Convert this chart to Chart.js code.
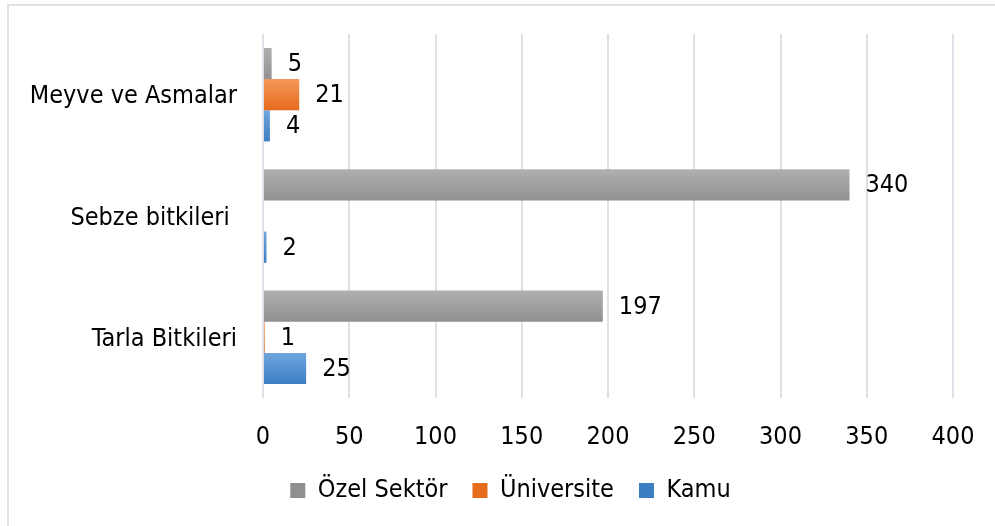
<!DOCTYPE html>
<html>
<head>
<meta charset="utf-8">
<script src="https://cdn.jsdelivr.net/npm/chart.js@4.4.1/dist/chart.umd.min.js"></script>
<style>
  html, body { margin: 0; padding: 0; background: #fff; overflow: hidden; }
  #wrap { position: relative; width: 995px; height: 526px; }
  #frame { position: absolute; left: 7px; top: 4px; width: 1000px; height: 540px;
           border: 2px solid #dfe3e8; box-sizing: border-box; pointer-events: none; }
</style>
</head>
<body>
<div id="wrap">
  <canvas id="chartCanvas" width="995" height="526"></canvas>
  <div id="frame"></div>
</div>
<script>
// Data:
var categories = ['Meyve ve Asmalar', 'Sebze bitkileri ', 'Tarla Bitkileri'];
var seriesNames = ['Özel Sektör', 'Üniversite', 'Kamu'];
var ozelSektor = [5, 340, 197];
var universite = [21, null, 1];
var kamu = [4, 2, 25];
var xTicks = [0, 50, 100, 150, 200, 250, 300, 350, 400];

var FONT = "'DejaVu Sans Condensed', 'Liberation Sans', sans-serif";
var FONT_SIZE = 25;

// gradient stops for each series [top, bottom]
var colorStops = [
    ['#b0b0b0', '#909090'],
    ['#f4975a', '#e66c1e'],
    ['#6fa6dd', '#3d7ec3']
];

/**
 * Vertical gradient per bar, built from the bar's current position.
 */
function barFill(seriesIndex) {
    return function (context) {
        var el = context.element;
        var stops = colorStops[seriesIndex];
        if (!el || !el.height || isNaN(el.y)) return stops[1];
        var top = el.y - el.height / 2;
        var g = context.chart.ctx.createLinearGradient(0, top, 0, top + el.height);
        g.addColorStop(0, stops[0]);
        g.addColorStop(1, stops[1]);
        return g;
    };
}

// Value labels to the right of each bar
var valueLabels = {
    id: 'valueLabels',
    afterDatasetsDraw: function (chart) {
        var ctx = chart.ctx;
        ctx.save();
        ctx.font = FONT_SIZE + 'px ' + FONT;
        ctx.fillStyle = '#000';
        ctx.textAlign = 'left';
        ctx.textBaseline = 'middle';
        chart.data.datasets.forEach(function (ds, di) {
            var meta = chart.getDatasetMeta(di);
            meta.data.forEach(function (bar, i) {
                var v = ds.data[i];
                if (v === null || v === undefined) return;
                ctx.fillText(String(v), bar.x + 16, bar.y + 1);
            });
        });
        ctx.restore();
    }
};

// legend sits a bit right of the canvas centre in the original
var legendShift = {
    id: 'legendShift',
    afterLayout: function (chart) {
        chart.legend.left += 34;
        chart.legend.right += 34;
    }
};

var datasets = [ozelSektor, universite, kamu].map(function (values, i) {
    return {
        label: seriesNames[i],
        data: values,
        backgroundColor: barFill(i),
        borderWidth: 0,
        categoryPercentage: 0.77,
        barPercentage: 1.0
    };
});

Chart.defaults.font.family = FONT;
Chart.defaults.font.size = FONT_SIZE;
Chart.defaults.color = '#000';

var chart = new Chart(document.getElementById('chartCanvas'), {
    type: 'bar',
    data: { labels: categories, datasets: datasets },
    plugins: [valueLabels, legendShift],
    options: {
        indexAxis: 'y',
        responsive: false,
        animation: false,
        events: [],
        layout: { padding: { left: 0, right: 42, top: 34, bottom: 13 } },
        scales: {
            x: {
                min: 0,
                max: 400,
                afterBuildTicks: function (scale) {
                    scale.ticks = xTicks.map(function (v) { return { value: v }; });
                },
                afterFit: function (scale) {
                    scale.height = 55;
                    scale.paddingLeft = 0;
                    scale.paddingRight = 0;
                },
                border: { display: false },
                grid: { color: '#dde2e9', lineWidth: 2, drawTicks: false },
                ticks: { padding: 24, color: '#000' }
            },
            y: {
                afterFit: function (scale) {
                    scale.width = 263;
                    scale.paddingTop = 0;
                    scale.paddingBottom = 0;
                },
                border: { display: false },
                grid: { display: false, drawTicks: false },
                ticks: { padding: 26, labelOffset: 2, color: '#000' }
            }
        },
        plugins: {
            legend: {
                position: 'bottom',
                labels: {
                    boxWidth: 15,
                    boxHeight: 15,
                    padding: 25,
                    color: '#000',
                    font: { size: FONT_SIZE },
                    generateLabels: function (c) {
                        return seriesNames.map(function (name, i) {
                            return {
                                text: name,
                                fillStyle: colorStops[i][1],
                                strokeStyle: colorStops[i][1],
                                lineWidth: 0,
                                datasetIndex: i
                            };
                        });
                    }
                }
            },
            tooltip: { enabled: false }
        }
    }
});

// second pass so the gradients can use the bar positions
chart.update();
</script>
</body>
</html>
